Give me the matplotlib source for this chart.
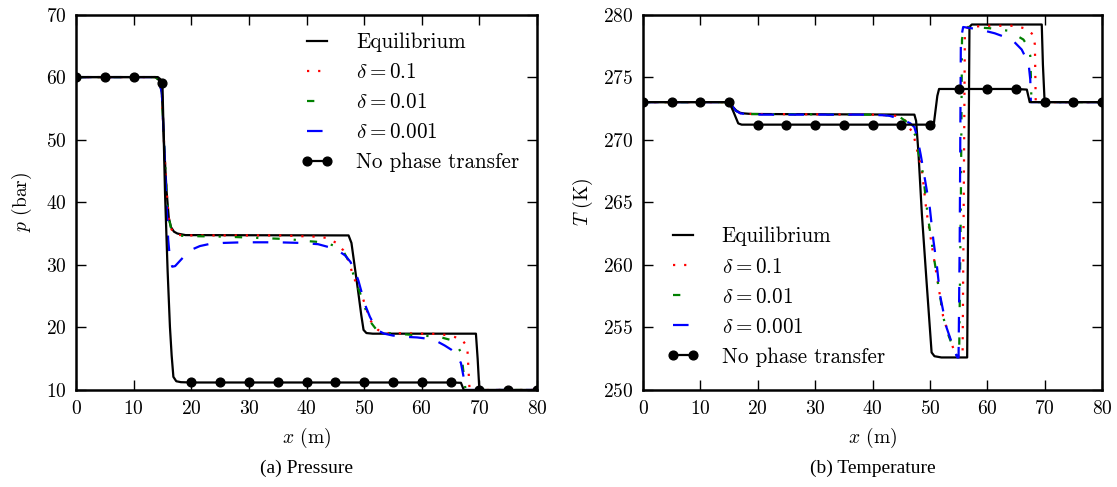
import numpy as np
import matplotlib
matplotlib.use("Agg")
import matplotlib.pyplot as plt

plt.rcParams['font.family'] = ['cmr10', 'DejaVu Serif']
plt.rcParams['mathtext.fontset'] = 'cm'
plt.rcParams['axes.formatter.use_mathtext'] = True
plt.rcParams['axes.unicode_minus'] = False

# ---------------- pressure (bar) ----------------
x_p_eq = [0, 13.8, 14.4, 14.9, 15.3, 15.7, 16.1, 16.5, 17.0, 17.6, 19, 47.3, 47.8, 48.4, 49.0, 49.5, 49.9, 50.4,
          51.5, 69.4, 69.7, 70.0, 80]
p_eq = [60, 60, 59.5, 57.5, 49, 42, 37.5, 36, 35.3, 35.0, 34.75, 34.7, 33.5, 29.5, 25.5, 22, 19.6, 19.1,
        19.0, 19.0, 15, 10, 10]

x_p_d1 = [0, 13.8, 14.4, 14.9, 15.3, 15.7, 16.1, 16.5, 17.0, 17.6, 19, 36, 38, 41.8, 43.5, 45.2, 46.4, 47.4,
          48.1, 49.3, 50.2, 51.0, 52.4, 54, 63.2, 65.2, 66.9, 67.9, 68.1, 68.3, 70, 80]
p_d1 = [60, 60, 59.5, 57.5, 49, 42, 37.5, 35.8, 35.0, 34.8, 34.7, 34.7, 34.6, 34.5, 34.3, 33.5, 32.3, 30.5,
        28.1, 26.0, 23.5, 21.2, 19.6, 19.1, 18.95, 18.6, 18.15, 16.9, 13.5, 10, 10, 10]

x_p_d2 = [0, 13.8, 14.4, 14.9, 15.3, 15.7, 16.1, 16.5, 17.0, 17.6, 19, 26, 33, 37, 40, 43, 45, 46.5, 47.5,
          48.3, 49.3, 50.2, 51.0, 52.0, 54, 57, 63, 65, 66.1, 66.8, 67.1, 67.4, 67.6, 80]
p_d2 = [60, 60, 59.5, 57.5, 49, 42, 37.5, 35.8, 35.0, 34.7, 34.6, 34.5, 34.25, 34.1, 33.8, 33.6, 33.0, 32.0, 30.3,
        28.0, 25.5, 23, 21, 19.8, 19.1, 18.9, 18.5, 18.0, 17.2, 16.0, 14.0, 11.5, 10, 10]

x_p_d3 = [0, 13.8, 14.4, 14.9, 15.3, 15.7, 16.0, 16.3, 16.7, 17.2, 18.0, 19.0, 20.0, 21.5, 23, 25.5, 29, 35,
          39, 42, 44.4, 45.6, 46.7, 47.6, 48.3, 49.0, 49.6, 50.3, 51.0, 52.2, 53.5, 55, 57, 59.2, 61, 62.8,
          64.0, 65.2, 66.0, 66.8, 67.3, 67.5, 80]
p_d3 = [60, 60, 59.5, 57.5, 49, 40, 34, 31, 29.7, 29.8, 30.6, 31.6, 32.4, 33.0, 33.3, 33.5, 33.6, 33.6,
        33.5, 33.3, 32.7, 32.2, 31.5, 30.5, 29.3, 27.5, 25.5, 23.3, 21.7, 19.6, 19.0, 18.7, 18.5, 18.4, 18.2, 17.7,
        17.1, 16.4, 15.8, 14.3, 11.9, 10, 10]

x_p_npt = [0, 5, 10, 14.2, 14.6, 15, 15.45, 15.9, 16.3, 16.6, 16.9, 17.4, 18.2, 20, 25, 30, 35, 40, 45, 50,
           55, 60, 65, 66.8, 67.3, 70, 75, 80]
p_npt = [60, 60, 60, 60, 59.7, 59, 41.4, 29, 20.1, 15.5, 12.1, 11.4, 11.25, 11.2, 11.2, 11.2, 11.2, 11.2, 11.2, 11.2,
         11.2, 11.2, 11.2, 11.15, 10, 10, 10, 10]

# ---------------- temperature (K) ----------------
x_T_eq = [0, 14.8, 15.5, 16.2, 16.9, 17.5, 19, 47.3, 47.6, 48.0, 48.6, 49.4, 50.3, 50.8, 52, 56.5, 56.9, 57.3,
          69.5, 69.7, 70.0, 80]
T_eq = [273, 273, 272.7, 272.35, 272.15, 272.1, 272.05, 272.0, 271.5, 269.0, 264.1, 258.8, 253.0, 252.7, 252.6,
        252.6, 279.0, 279.2, 279.2, 276, 273.0, 273]

x_T_d1 = [0, 14.8, 15.5, 16.2, 17.0, 19, 40, 44.5, 45.8, 46.5, 47.1, 47.7, 48.6, 49.4, 50.6, 51.5, 52.3, 53.2,
          54.1, 54.6, 55.0, 55.7, 55.9, 56.1, 56.6, 60, 64.6, 66.5, 68.0, 68.3, 68.45, 70, 80]
T_d1 = [273, 273, 272.7, 272.3, 272.1, 272.05, 272.0, 271.9, 271.5, 270.9, 270.5, 269.3, 267.6, 264.3, 260.8,
        258.3, 255.9, 254.5, 253.3, 252.8, 252.7, 252.7, 265, 278.5, 279.0, 279.1, 279.1, 278.9, 278.4, 277.6,
        273.0, 273, 273]

x_T_d2 = [0, 14.8, 15.5, 16.2, 17.0, 19, 40, 44.5, 46.0, 46.8, 47.4, 48.0, 48.8, 49.6, 50.7, 51.6, 52.4, 53.3,
          54.2, 54.7, 55.1, 55.4, 55.6, 55.9, 57.2, 60.5, 63.7, 66.3, 67.0, 67.5, 67.6, 67.7, 70, 80]
T_d2 = [273, 273, 272.7, 272.3, 272.1, 272.05, 272.0, 271.9, 271.4, 270.9, 270.4, 269.0, 267.3, 264.0, 260.6,
        258.0, 255.7, 254.3, 253.2, 252.75, 252.65, 265, 278.0, 279.0, 279.0, 278.9, 278.7, 278.0, 277.5, 276.7,
        275.1, 273.0, 273, 273]

x_T_d3 = [0, 14.8, 15.5, 16.2, 17.0, 19, 38, 42, 43.0, 44.5, 45.7, 46.6, 47.3, 47.8, 48.4, 49.0, 50.0, 50.6,
          51.2, 51.8, 52.9, 53.8, 54.4, 54.8, 55.0, 55.2, 55.4, 55.8, 58.7, 61.3, 64.3, 66.0, 67.2, 67.5, 67.6,
          70, 80]
T_d3 = [273, 273, 272.7, 272.3, 272.1, 272.0, 272.0, 271.95, 271.9, 271.7, 271.5, 271.3, 271.0, 270.2, 268.8,
        267.2, 264.5, 262.0, 260.0, 257.5, 255.0, 253.8, 253.0, 252.6, 252.6, 262, 278.0, 279.0, 278.8, 278.5,
        278.0, 277.2, 276.1, 274.8, 273.0, 273, 273]

x_T_npt = [0, 5, 10, 15, 15.7, 16.6, 17.2, 20, 25, 30, 35, 40, 45, 50, 50.7, 51.3, 51.6, 55, 60, 65, 66.9,
           67.4, 70, 75, 80]
T_npt = [273, 273, 273, 273, 272.3, 271.3, 271.2, 271.2, 271.2, 271.2, 271.2, 271.2, 271.2, 271.2, 271.3,
         273.5, 274.05, 274.05, 274.05, 274.05, 274.0, 273.0, 273, 273, 273]

labels = ['Equilibrium', r'$\delta=0.1$', r'$\delta=0.01$', r'$\delta=0.001$', 'No phase transfer']

fs = 14
lfs = 15.2
lw = 1.6


def every5(xs):
    return [i for i, v in enumerate(xs) if abs(v / 5 - round(v / 5)) < 1e-9]


def draw(ax, curves, npt):
    ax.plot(curves[0][0], curves[0][1], color='k', lw=lw, label=labels[0])
    ax.plot(curves[1][0], curves[1][1], color='r', lw=lw, ls=(0, (1, 4)), label=labels[1])
    ax.plot(curves[2][0], curves[2][1], color='g', lw=lw, ls=(0, (3.3, 6.3, 1, 6.3)), label=labels[2])
    ax.plot(curves[3][0], curves[3][1], color='b', lw=lw, ls=(0, (7, 6.5)), label=labels[3])
    ax.plot(npt[0], npt[1], color='k', lw=lw, marker='o', ms=6.3, markevery=every5(npt[0]), label=labels[4])
    ax.set_xlim(0, 80)
    ax.set_xticks(range(0, 81, 10))
    ax.tick_params(direction='in', top=True, right=True, length=7.5, width=1.0, pad=7, labelsize=fs)
    for s in ax.spines.values():
        s.set_linewidth(1.8)
    ax.set_xlabel(r'$x$ (m)', fontsize=fs, labelpad=6)


def add_legend(ax, loc, pad):
    ax.legend(loc=loc, frameon=False, fontsize=lfs, numpoints=2, handlelength=1.58,
              handletextpad=1.05, labelspacing=0.5, borderaxespad=pad)


fig = plt.figure(figsize=(11.17, 4.87), dpi=100)
ax1 = fig.add_axes([76 / 1117, 1 - 390 / 487, (537 - 76) / 1117, (390 - 14.5) / 487])
ax2 = fig.add_axes([643 / 1117, 1 - 390 / 487, (1102 - 643) / 1117, (390 - 14.5) / 487])

draw(ax1, [(x_p_eq, p_eq), (x_p_d1, p_d1), (x_p_d2, p_d2), (x_p_d3, p_d3)], (x_p_npt, p_npt))
ax1.set_ylim(10, 70)
ax1.set_ylabel(r'$p$ (bar)', fontsize=fs, labelpad=8)
add_legend(ax1, 'upper right', 0.45)

draw(ax2, [(x_T_eq, T_eq), (x_T_d1, T_d1), (x_T_d2, T_d2), (x_T_d3, T_d3)], (x_T_npt, T_npt))
ax2.set_ylim(250, 280)
ax2.set_ylabel(r'$T$ (K)', fontsize=fs, labelpad=6)
add_legend(ax2, 'lower left', 0.7)

fig.text((76 + 537) / 2 / 1117, 1 - 468 / 487, '(a) Pressure', ha='center', va='center',
         fontsize=14, family='Liberation Serif')
fig.text((643 + 1102) / 2 / 1117, 1 - 468 / 487, '(b) Temperature', ha='center', va='center',
         fontsize=14, family='Liberation Serif')

fig.savefig('out.png', dpi=100, facecolor='white')
